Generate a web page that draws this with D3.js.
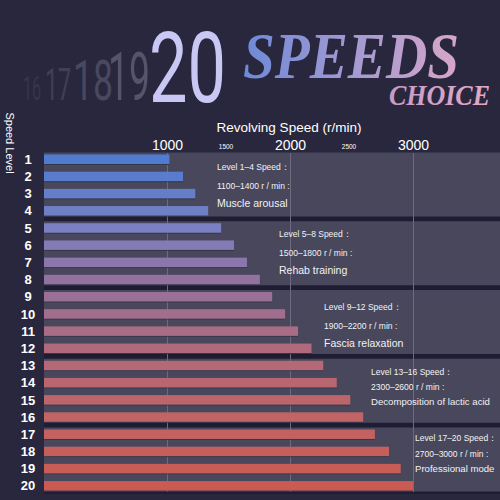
<!DOCTYPE html>
<html>
<head>
<meta charset="utf-8">
<script src="https://cdn.jsdelivr.net/npm/d3@7/dist/d3.min.js"></script>
<style>
  body { margin: 0; background: #29273e; }
  svg { display: block; }
</style>
</head>
<body>
<svg id="chart" width="500" height="500"></svg>
<script>
// data
var levels = [1,2,3,4,5,6,7,8,9,10,11,12,13,14,15,16,17,18,19,20];
var speeds = [1020,1130,1230,1335,1440,1545,1650,1755,1855,1960,2065,2175,2270,2380,2490,2595,2690,2805,2900,3000];
var majorTicks = [1000, 2000, 3000];
var minorTicks = [1500, 2500];
var groupTitles = ["Level 1\u20134 Speed\uff1a", "Level 5\u20138 Speed\uff1a", "Level 9\u201312 Speed\uff1a", "Level 13\u201316 Speed\uff1a", "Level 17\u201320 Speed\uff1a"];
var groupRanges = ["1100\u20131400 r / min :", "1500\u20131800 r / min :", "1900\u20132200 r / min :", "2300\u20132600 r / min :", "2700\u20133000 r / min :"];
var groupEffects = ["Muscle arousal", "Rehab training", "Fascia relaxation", "Decomposition of lactic acid", "Professional mode"];
var headerNums = ["16", "17", "18", "19", "20"];

// layout bits (text placement only)
var labelX = [217, 279, 324, 371, 415];
var labelTop = [17, 16, 20, 16, 14];
var labelGap = [19, 19, 19, 15.5, 16];
var effectSize = [10.5, 10.5, 10.5, 9.6, 9.6];

var svg = d3.select("#chart"),
    width = +svg.attr("width"),
    height = +svg.attr("height");

var x = d3.scaleLinear().domain([0, 3000]).range([44, 413]);
var y = d3.scaleBand().domain(levels).range([154.5, 490.5]).paddingInner(0.45).paddingOuter(0);
var bw = y.bandwidth();
var color = d3.scaleLinear()
    .domain([1, 5, 8, 12, 16, 20])
    .range(["#4f7bd0", "#7a80c2", "#93729f", "#b06a7c", "#c06466", "#ca5a52"]);

svg.append("rect").attr("width", width).attr("height", height).attr("fill", "#29273e");

// dark strip behind panels
svg.append("rect")
    .attr("x", 44).attr("y", 153).attr("width", width - 44).attr("height", 341)
    .attr("fill", "#1f1d33");

// header
var defs = svg.append("defs");
var g1 = defs.append("linearGradient").attr("id", "speedsGrad")
    .attr("gradientUnits", "userSpaceOnUse").attr("x1", 245).attr("x2", 460).attr("y1", 0).attr("y2", 0);
g1.append("stop").attr("offset", 0).attr("stop-color", "#6f8ad8");
g1.append("stop").attr("offset", 0.5).attr("stop-color", "#a39ad2");
g1.append("stop").attr("offset", 1).attr("stop-color", "#d8a6c8");
var g2 = defs.append("linearGradient").attr("id", "choiceGrad")
    .attr("gradientUnits", "userSpaceOnUse").attr("x1", 390).attr("x2", 495).attr("y1", 0).attr("y2", 0);
g2.append("stop").attr("offset", 0).attr("stop-color", "#c69cc6");
g2.append("stop").attr("offset", 1).attr("stop-color", "#e2aac6");

var numStyle = [
    {x: 23, y: 100, size: 34, len: 18, fill: "#37354c"},
    {x: 45, y: 100, size: 45, len: 26, fill: "#413f56"},
    {x: 73, y: 100, size: 56, len: 40, fill: "#4a4860"},
    {x: 108, y: 100, size: 67, len: 42, fill: "#56546c"},
    {x: 149, y: 102, size: 98, len: 77, fill: "#c9c7f3"}
];
svg.append("g").selectAll("text")
    .data(headerNums)
    .join("text")
    .attr("x", function(d, i){ return numStyle[i].x; })
    .attr("y", function(d, i){ return numStyle[i].y; })
    .attr("textLength", function(d, i){ return numStyle[i].len; })
    .attr("lengthAdjust", "spacingAndGlyphs")
    .attr("font-family", "Roboto, 'Liberation Sans', sans-serif")
    .attr("font-weight", 400)
    .attr("font-size", function(d, i){ return numStyle[i].size; })
    .attr("fill", function(d, i){ return numStyle[i].fill; })
    .text(function(d){ return d; });

svg.append("text")
    .attr("x", 243).attr("y", 78)
    .attr("font-family", "'Liberation Serif', 'Times New Roman', serif")
    .attr("font-weight", "bold").attr("font-style", "italic")
    .attr("font-size", 66)
    .attr("textLength", 216).attr("lengthAdjust", "spacingAndGlyphs")
    .attr("fill", "url(#speedsGrad)")
    .text("SPEEDS");

svg.append("text")
    .attr("x", 389).attr("y", 105)
    .attr("font-family", "'Liberation Serif', 'Times New Roman', serif")
    .attr("font-weight", "bold").attr("font-style", "italic")
    .attr("font-size", 29)
    .attr("textLength", 101).attr("lengthAdjust", "spacingAndGlyphs")
    .attr("fill", "url(#choiceGrad)")
    .text("CHOICE");

// axis title and labels
svg.append("text")
    .attr("x", 289).attr("y", 132)
    .attr("text-anchor", "middle")
    .attr("font-family", "'Liberation Sans', Arial, sans-serif")
    .attr("font-size", 13.5)
    .attr("fill", "#ffffff")
    .text("Revolving Speed (r/min)");

svg.append("text")
    .attr("transform", "translate(6,143) rotate(90)")
    .attr("text-anchor", "middle")
    .attr("font-family", "'Liberation Sans', Arial, sans-serif")
    .attr("font-size", 11)
    .attr("fill", "#ffffff")
    .text("Speed Level");

var axisMajor = svg.append("g")
    .attr("transform", "translate(0,150)")
    .call(d3.axisTop(x).tickValues(majorTicks).tickSize(0).tickPadding(0).tickFormat(d3.format("d")));
axisMajor.select(".domain").remove();
axisMajor.selectAll("text")
    .attr("font-family", "'Liberation Sans', Arial, sans-serif")
    .attr("font-size", 14)
    .attr("fill", "#ffffff");

var axisMinor = svg.append("g")
    .attr("transform", "translate(-3,149)")
    .call(d3.axisTop(x).tickValues(minorTicks).tickSize(0).tickPadding(0).tickFormat(d3.format("d")));
axisMinor.select(".domain").remove();
axisMinor.selectAll("text")
    .attr("font-family", "'Liberation Sans', Arial, sans-serif")
    .attr("font-size", 6.5)
    .attr("fill", "#ffffff");

// group panels
var groups = [0, 1, 2, 3, 4];
function groupTop(i){ return y(levels[i * 4]) - 2; }
function groupBottom(i){ return y(levels[i * 4 + 3]) + bw + 1; }

svg.append("g").selectAll("rect")
    .data(groups)
    .join("rect")
    .attr("x", 44)
    .attr("y", groupTop)
    .attr("width", width - 44)
    .attr("height", function(i){ return groupBottom(i) - groupTop(i); })
    .attr("fill", "#48475b");

// grid lines
svg.append("g").selectAll("line")
    .data(majorTicks)
    .join("line")
    .attr("x1", function(d){ return x(d) + 0.5; })
    .attr("x2", function(d){ return x(d) + 0.5; })
    .attr("y1", 153).attr("y2", 492)
    .attr("stroke", "#6c6b82")
    .attr("stroke-width", 1);

// bars
var bars = svg.append("g");
bars.selectAll("rect.shadow")
    .data(levels)
    .join("rect")
    .attr("class", "shadow")
    .attr("x", x(0))
    .attr("y", function(d){ return y(d) + bw; })
    .attr("width", function(d, i){ return x(speeds[i]) - x(0); })
    .attr("height", 1)
    .attr("fill", "#37364b");
bars.selectAll("rect.bar")
    .data(levels)
    .join("rect")
    .attr("class", "bar")
    .attr("x", x(0))
    .attr("y", function(d){ return y(d); })
    .attr("width", function(d, i){ return x(speeds[i]) - x(0); })
    .attr("height", bw)
    .attr("fill", function(d){ return color(d); });

// level numbers
svg.append("g").selectAll("text")
    .data(levels)
    .join("text")
    .attr("x", 28)
    .attr("y", function(d){ return y(d) + bw / 2; })
    .attr("dy", "0.36em")
    .attr("text-anchor", "middle")
    .attr("font-family", "'Liberation Sans', Arial, sans-serif")
    .attr("font-weight", "bold")
    .attr("font-size", 13)
    .attr("fill", "#ffffff")
    .text(function(d){ return d; });

// group notes
var notes = svg.append("g")
    .attr("font-family", "'Liberation Sans', Arial, sans-serif")
    .attr("fill", "#f2f2f6");
groups.forEach(function(i){
    var top = groupTop(i);
    notes.append("text")
        .attr("x", labelX[i]).attr("y", top + labelTop[i])
        .attr("font-size", 8.5)
        .text(groupTitles[i]);
    notes.append("text")
        .attr("x", labelX[i]).attr("y", top + labelTop[i] + labelGap[i])
        .attr("font-size", 8.5)
        .text(groupRanges[i]);
    notes.append("text")
        .attr("x", labelX[i]).attr("y", top + labelTop[i] + labelGap[i] * 2 - 1)
        .attr("font-size", effectSize[i])
        .text(groupEffects[i]);
});
</script>
</body>
</html>
